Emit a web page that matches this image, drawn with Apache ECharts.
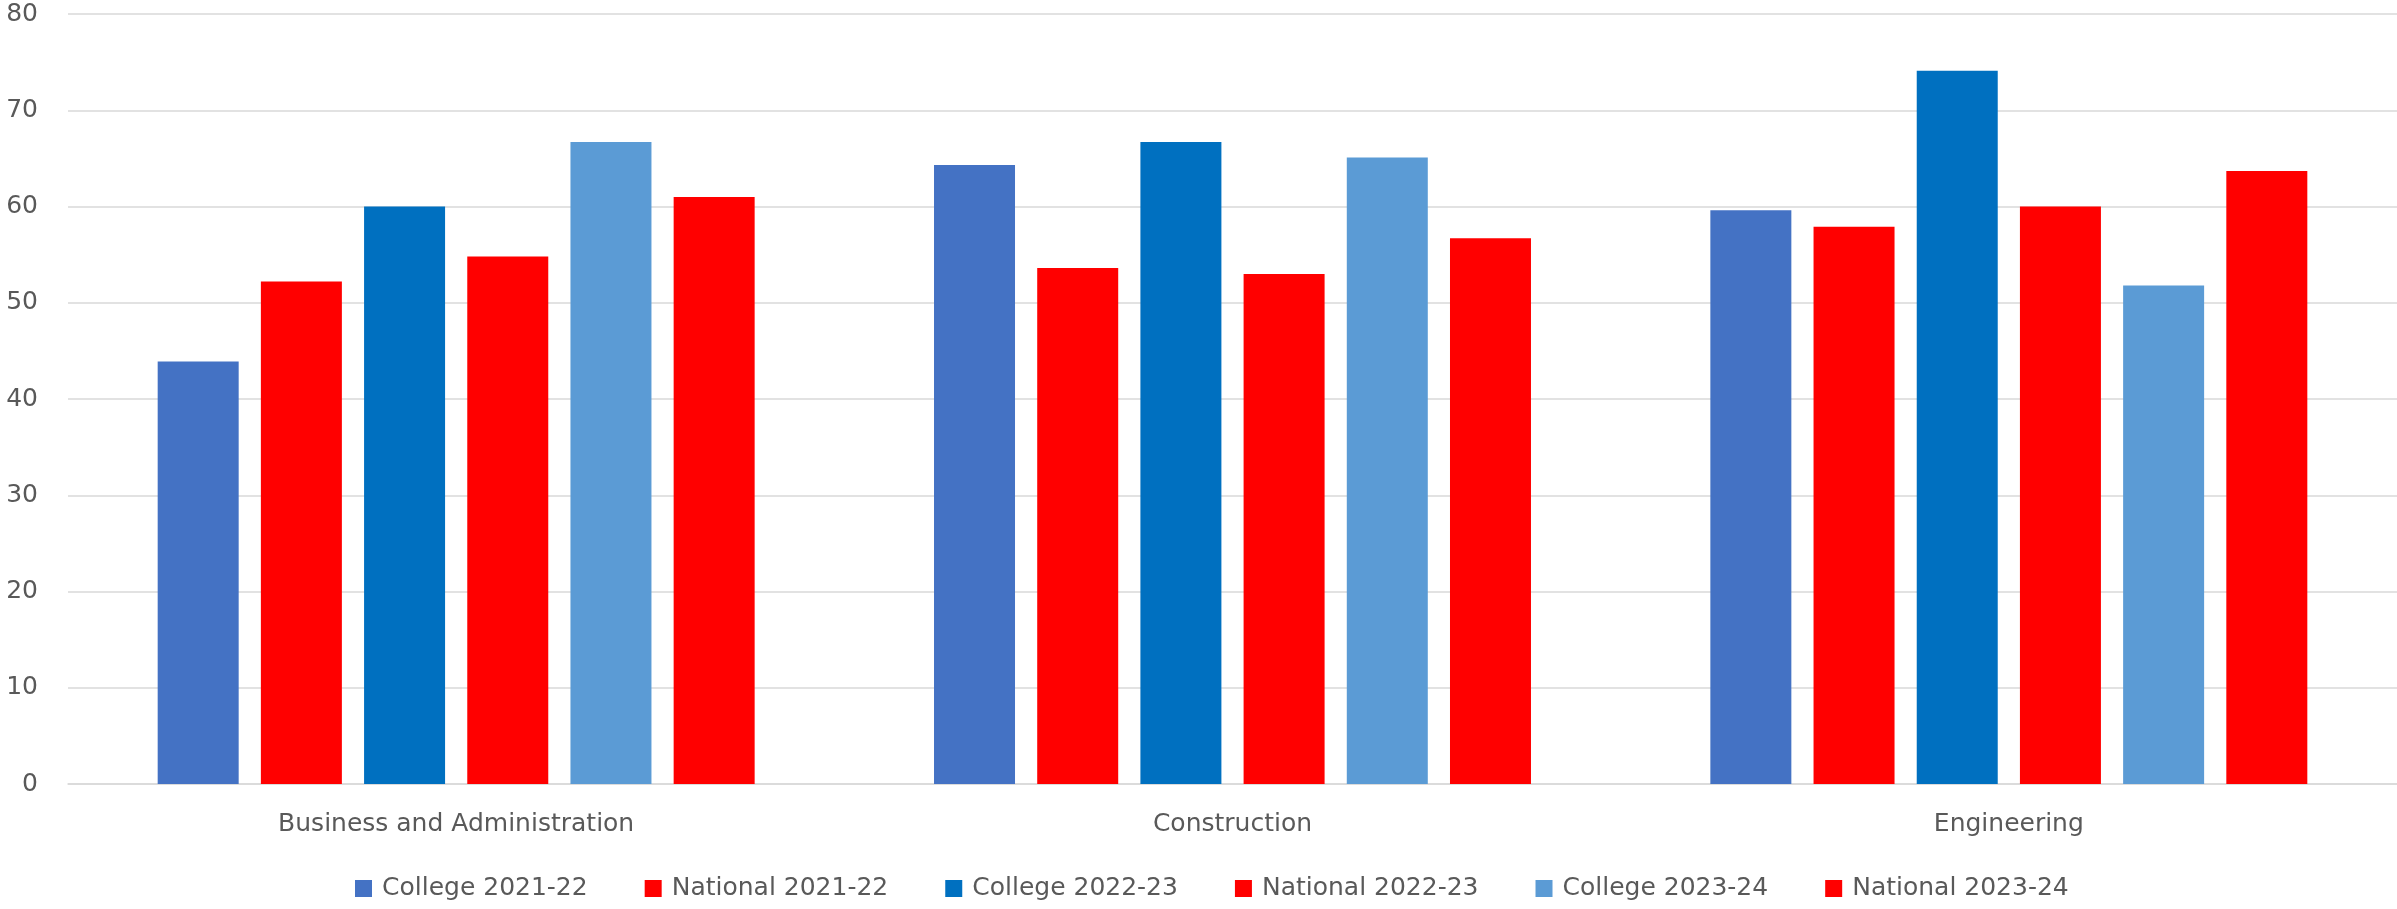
<!DOCTYPE html>
<html>
<head>
<meta charset="utf-8">
<script src="https://cdn.jsdelivr.net/npm/echarts@6/dist/echarts.min.js"></script>
<style>
html,body{margin:0;padding:0;background:#fff;}
#chart{width:2397px;height:909px;}
</style>
</head>
<body>
<div id="chart"></div>
<script>
const categories = ['Business and Administration', 'Construction', 'Engineering'];
const seriesNames = ['College 2021-22', 'National 2021-22', 'College 2022-23', 'National 2022-23', 'College 2023-24', 'National 2023-24'];
const college2122 = [43.9, 64.3, 59.6];
const national2122 = [52.2, 53.6, 57.9];
const college2223 = [60.0, 66.7, 74.1];
const national2223 = [54.8, 53.0, 60.0];
const college2324 = [66.7, 65.1, 51.8];
const national2324 = [61.0, 56.7, 63.7];
const yTicks = [0, 10, 20, 30, 40, 50, 60, 70, 80];

const seriesData = [college2122, national2122, college2223, national2223, college2324, national2324];
const colors = ['#4472C4', '#FF0000', '#0070C0', '#FF0000', '#5B9BD5', '#FF0000'];
const FONT = 'DejaVu Sans';
const TXT = '#595959';

const chart = echarts.init(document.getElementById('chart'), null, {renderer: 'canvas'});
chart.setOption({
  animation: false,
  backgroundColor: '#ffffff',
  textStyle: {fontFamily: FONT},
  grid: {left: 68, right: 0, top: 14, bottom: 125, containLabel: false},
  legend: {
    data: seriesNames,
    left: 355,
    top: 876,
    padding: 0,
    itemWidth: 17,
    itemHeight: 17,
    itemGap: 57,
    icon: 'rect',
    textStyle: {fontFamily: FONT, fontSize: 25, color: TXT, padding: [0, 0, 0, 5]}
  },
  xAxis: {
    type: 'category',
    data: categories,
    axisTick: {show: false},
    axisLine: {show: true, lineStyle: {color: '#d9d9d9', width: 1.5}},
    axisLabel: {fontFamily: FONT, fontSize: 25, color: TXT, margin: 28}
  },
  yAxis: {
    type: 'value',
    min: yTicks[0],
    max: yTicks[yTicks.length - 1],
    interval: 10,
    axisLine: {show: false},
    axisTick: {show: false},
    splitLine: {lineStyle: {color: '#d9d9d9', width: 1.5}},
    axisLabel: {fontFamily: FONT, fontSize: 25, color: TXT, margin: 30}
  },
  series: seriesNames.map((name, i) => ({
    name: name,
    type: 'bar',
    data: seriesData[i],
    barWidth: 81,
    barGap: '27.4%',
    itemStyle: {color: colors[i]}
  }))
});
</script>
</body>
</html>
